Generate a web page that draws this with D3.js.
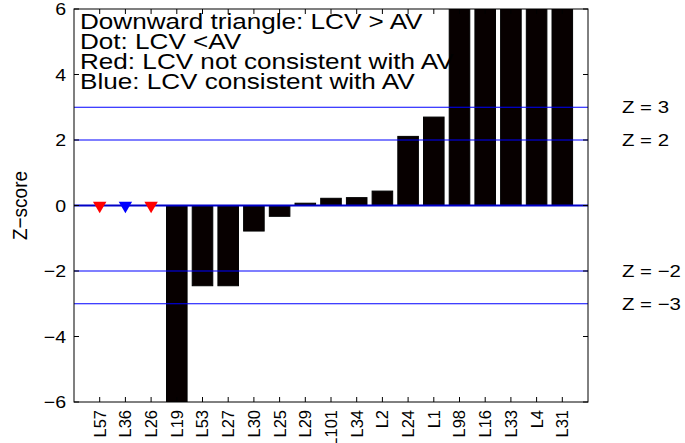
<!DOCTYPE html>
<html>
<head>
<meta charset="utf-8">
<script src="https://cdn.jsdelivr.net/npm/d3@7"></script>
<style>
  html, body { margin: 0; padding: 0; background: #fff; }
  svg { display: block; }
  text { font-family: "Liberation Sans", Arial, Helvetica, sans-serif; fill: #000; }
</style>
</head>
<body>
<svg id="chart" width="685" height="443"></svg>
<script>
// Labs ordered by Z-score; the first three have no Z-score, only a marker.
const categories = ["L57", "L36", "L26", "L19", "L53", "L27", "L30", "L25", "L29", "L101",
                    "L34", "L2", "L24", "L1", "L98", "L16", "L33", "L4", "L31"];
const zScores = [null, null, null, -6.6, -2.45, -2.45, -0.78, -0.33, 0.07, 0.22,
                 0.24, 0.44, 2.11, 2.70, 7.5, 7.5, 7.5, 7.5, 7.5];

// Marker labs (downward triangle: LCV > AV); consistency with AV sets the colour.
const markerLabs = ["L57", "L36", "L26"];
const markerValues = [0, 0, 0];
const markerConsistent = [false, true, false];

// Reference lines and the ones that get a label at the right.
const zLines = [3, 2, 0, -2, -3];
const zLabelled = [3, 2, -2, -3];
const yTicks = [-6, -4, -2, 0, 2, 4, 6];

const notes = [
  "Downward triangle: LCV > AV",
  "Dot: LCV <AV",
  "Red: LCV not consistent with AV",
  "Blue: LCV consistent with AV"
];

const svg = d3.select("#chart");
const L = 74, R = 588, T = 9, B = 402;
const minus = s => String(s).replace("-", "\u2212");

const x = d3.scaleLinear().domain([0, categories.length + 1]).range([L, R]);
const y = d3.scaleLinear().domain([-6, 6]).range([B, T]);
const xc = c => x(categories.indexOf(c) + 1);

svg.append("clipPath").attr("id", "plot")
  .append("rect").attr("x", L).attr("y", T).attr("width", R - L).attr("height", B - T);

const plot = svg.append("g").attr("clip-path", "url(#plot)");

// bars
const bw = 0.8;
plot.selectAll("rect.bar")
  .data(categories.map((c, i) => ({ c, i, v: zScores[i] })).filter(d => d.v !== null))
  .join("rect")
  .attr("class", "bar")
  .attr("x", d => x(d.i + 1 - bw / 2))
  .attr("width", x(bw) - x(0))
  .attr("y", d => y(Math.max(0, d.v)))
  .attr("height", d => Math.abs(y(d.v) - y(0)))
  .attr("fill", "#070000")
  .attr("stroke", "#000")
  .attr("stroke-width", 1);

// baseline
plot.append("line")
  .attr("x1", L).attr("x2", R).attr("y1", y(0)).attr("y2", y(0))
  .attr("stroke", "#000").attr("stroke-width", 1);

// Z reference lines
plot.selectAll("line.z")
  .data(zLines)
  .join("line")
  .attr("class", "z")
  .attr("x1", L).attr("x2", R)
  .attr("y1", d => y(d)).attr("y2", d => y(d))
  .attr("stroke", d => d === 0 ? "#0000c8" : "#0000ff")
  .attr("stroke-width", d => d === 0 ? 1.8 : 1.2);

// markers
const tri = d3.symbol().type(d3.symbolTriangle).size(78);
plot.selectAll("path.marker")
  .data(markerLabs.map((c, i) => ({ c, v: markerValues[i], ok: markerConsistent[i] })))
  .join("path")
  .attr("class", "marker")
  .attr("d", tri)
  .attr("transform", d => `translate(${xc(d.c)},${y(d.v)}) rotate(180)`)
  .attr("fill", d => d.ok ? "#0000ff" : "#ff0000");

// axes box
svg.append("rect")
  .attr("x", L).attr("y", T).attr("width", R - L).attr("height", B - T)
  .attr("fill", "none").attr("stroke", "#000").attr("stroke-width", 1);

// y ticks (both sides, inward) and x ticks (top and bottom, inward)
const tk = 5;
const ticks = svg.append("g").attr("stroke", "#000").attr("stroke-width", 1);
yTicks.forEach(t => {
  ticks.append("line").attr("x1", L).attr("x2", L + tk).attr("y1", y(t)).attr("y2", y(t));
  ticks.append("line").attr("x1", R).attr("x2", R - tk).attr("y1", y(t)).attr("y2", y(t));
});
categories.forEach(c => {
  ticks.append("line").attr("x1", xc(c)).attr("x2", xc(c)).attr("y1", B).attr("y2", B - tk);
  ticks.append("line").attr("x1", xc(c)).attr("x2", xc(c)).attr("y1", T).attr("y2", T + tk);
});

// y tick labels
svg.selectAll("text.ytick")
  .data(yTicks)
  .join("text")
  .attr("class", "ytick")
  .attr("transform", d => `translate(66,${y(d)}) scale(1.15,1)`)
  .attr("dy", "0.36em")
  .attr("text-anchor", "end")
  .attr("font-size", 17)
  .text(d => minus(d));

// x tick labels (rotated)
svg.selectAll("text.xtick")
  .data(categories)
  .join("text")
  .attr("class", "xtick")
  .attr("transform", d => `translate(${xc(d)},410) rotate(-90)`)
  .attr("dy", "0.36em")
  .attr("text-anchor", "end")
  .attr("font-size", 16.5)
  .text(d => d);

// y axis title
svg.append("text")
  .attr("transform", `translate(19,${(T + B) / 2}) scale(1.1,1) rotate(-90)`)
  .attr("dy", "0.36em")
  .attr("text-anchor", "middle")
  .attr("font-size", 19)
  .text("Z\u2212score");

// Z line labels at right
svg.selectAll("text.zlab")
  .data(zLabelled)
  .join("text")
  .attr("class", "zlab")
  .attr("transform", d => `translate(622,${y(d)}) scale(1.2,1)`)
  .attr("dy", "0.36em")
  .attr("font-size", 17)
  .text(d => "Z = " + minus(d));

// annotation text
svg.selectAll("text.note")
  .data(notes)
  .join("text")
  .attr("class", "note")
  .attr("transform", (d, i) => `translate(80,${28.5 + i * 20}) scale(1.16,1)`)
  .attr("font-size", 22.5)
  .text(d => d);
</script>
</body>
</html>
